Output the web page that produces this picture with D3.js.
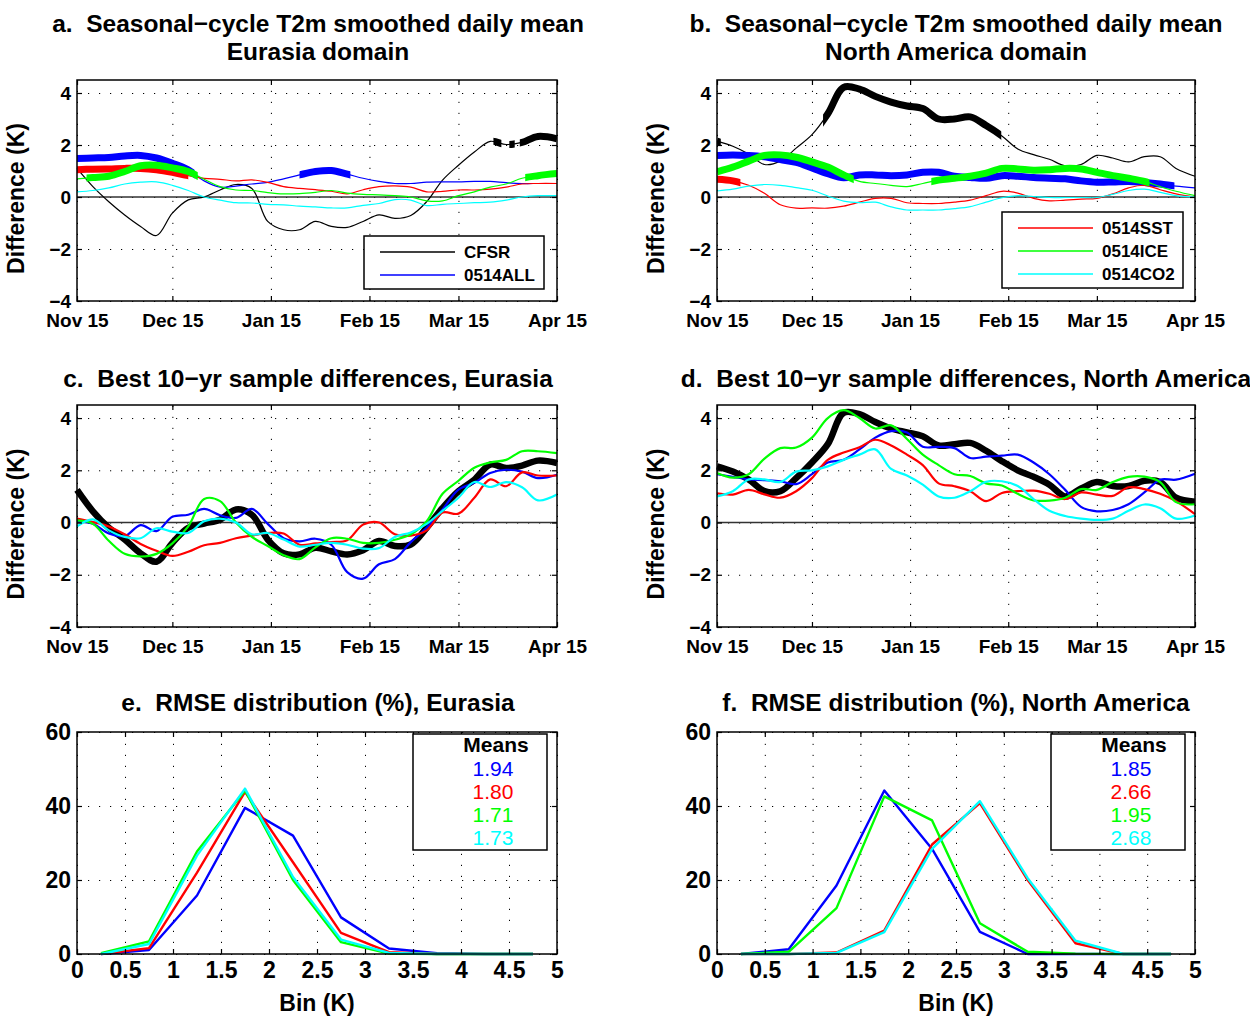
<!DOCTYPE html>
<html lang="en">
<head>
<meta charset="utf-8" />
<title>T2m differences</title>
<script src="https://d3js.org/d3.v7.min.js"></script>
<style>
  body { margin: 0; background: #fff; }
  svg text { font-family: "Liberation Sans", Arial, Helvetica, sans-serif; }
</style>
</head>
<body>
<script>
// ---- data ----
// day offsets from Nov 15 (every 5 days, last point at Apr 15)
var days = [0,5,10,15,20,25,30,35,40,45,50,55,60,65,70,75,80,85,90,95,100,105,110,115,120,125,130,135,140,145,151];
var dayTicks = [0,30,61,92,120,151];
var dayLabels = ["Nov 15","Dec 15","Jan 15","Feb 15","Mar 15","Apr 15"];
var diffTicks = [-4,-2,0,2,4];

// a. Eurasia, seasonal-cycle differences
var aCFSR = [1.1,0.4,-0.18,-0.69,-1.13,-1.48,-0.62,-0.11,0,0.27,0.48,0.33,-0.94,-1.26,-1.26,-0.94,-1.13,-1.17,-0.94,-0.69,-0.82,-0.71,-0.18,0.65,1.22,1.73,2.14,2.02,2.1,2.33,2.24];
var aALL  = [1.48,1.5,1.52,1.58,1.6,1.5,1.3,1.05,0.62,0.38,0.42,0.5,0.56,0.7,0.85,0.98,1.02,0.88,0.72,0.6,0.52,0.52,0.57,0.58,0.58,0.6,0.6,0.55,0.52,0.52,0.52];
var aSST  = [1.05,1.07,1.08,1.1,1.1,1.05,0.95,0.82,0.72,0.68,0.62,0.66,0.56,0.4,0.33,0.28,0.22,0.12,0.28,0.4,0.43,0.38,0.2,0.22,0.27,0.27,0.3,0.38,0.5,0.52,0.52];
var aICE  = [0.7,0.75,0.8,0.98,1.2,1.22,1.12,0.98,0.68,0.4,0.27,0.25,0.17,0.12,0.13,0.18,0.25,0.15,0.1,0.08,0.05,0.0,-0.15,-0.15,0.05,0.2,0.38,0.5,0.72,0.82,0.9];
var aCO2  = [0.2,0.25,0.35,0.5,0.57,0.58,0.45,0.25,0.0,-0.12,-0.22,-0.23,-0.28,-0.3,-0.35,-0.38,-0.42,-0.42,-0.32,-0.25,-0.1,-0.12,-0.33,-0.28,-0.25,-0.22,-0.2,-0.12,0.0,0.05,0.05];
// significant periods (thick), in days
var aSigCFSR = [[131,133.5],[136,137.7],[139.3,151]];
var aSigALL  = [[0,37],[70,86]];
var aSigSST  = [[0,35]];
var aSigICE  = [[3,38],[141,151]];

// b. North America, seasonal-cycle differences
var bCFSR = [2.15,1.95,1.65,1.25,1.38,1.88,2.4,3.2,4.22,4.15,3.87,3.65,3.5,3.4,3.0,3.0,3.08,2.75,2.35,1.85,1.63,1.45,1.2,1.25,1.6,1.5,1.35,1.55,1.55,1.1,0.8];
var bALL  = [1.6,1.62,1.6,1.55,1.44,1.33,1.12,0.9,0.74,0.85,0.85,0.82,0.85,0.95,0.95,0.8,0.75,0.72,0.82,0.8,0.75,0.72,0.7,0.62,0.57,0.58,0.6,0.56,0.5,0.42,0.35];
var bSST  = [0.68,0.62,0.45,0.14,-0.3,-0.43,-0.42,-0.43,-0.35,-0.2,-0.05,-0.05,-0.22,-0.25,-0.25,-0.2,-0.12,0.05,0.22,0.15,-0.05,-0.15,-0.12,-0.08,-0.05,0.12,0.35,0.45,0.28,0.12,0.0];
var bICE  = [0.97,1.15,1.38,1.6,1.62,1.53,1.35,1.15,0.85,0.6,0.52,0.45,0.4,0.52,0.65,0.72,0.8,0.92,1.1,1.08,1.03,1.05,1.1,1.08,0.95,0.82,0.72,0.6,0.4,0.22,0.05];
var bCO2  = [0.23,0.3,0.42,0.48,0.45,0.36,0.26,0.04,-0.16,-0.22,-0.2,-0.38,-0.5,-0.5,-0.5,-0.45,-0.37,-0.2,-0.03,0.05,0.02,-0.02,-0.02,-0.02,-0.02,0.1,0.25,0.3,0.18,0.05,0.0];
var bSigCFSR = [[0,1.2],[33.5,89.8]];
var bSigALL  = [[0,144.5]];
var bSigSST  = [[0,7.4]];
var bSigICE  = [[0,43.2],[67.7,136.6]];

// c. Eurasia, best 10-yr sample
var cCFSR = [1.25,0.43,-0.2,-0.65,-1.18,-1.5,-0.78,-0.2,-0.04,0.11,0.5,0.3,-0.65,-1.18,-1.22,-0.97,-1.1,-1.22,-1.06,-0.71,-0.9,-0.84,-0.2,0.56,1.2,1.64,2.22,2.09,2.18,2.37,2.28];
var cALL  = [0.05,-0.05,-0.42,-0.52,-0.1,-0.33,0.22,0.3,0.52,0.28,0.18,0.52,-0.05,-0.6,-0.72,-0.62,-0.85,-1.9,-2.15,-1.6,-1.4,-0.75,-0.2,0.5,1.26,1.52,1.9,2.02,1.95,1.7,1.83];
var cSST  = [0.15,0.02,-0.15,-0.45,-0.82,-1.08,-1.28,-1.12,-0.87,-0.78,-0.6,-0.5,-0.4,-0.42,-0.85,-0.8,-0.75,-0.68,-0.08,0.0,-0.45,-0.5,-0.3,0.38,0.34,0.95,1.65,1.39,1.92,1.8,1.8];
var cICE  = [0.08,-0.05,-0.7,-1.2,-1.3,-1.2,-0.8,-0.15,0.9,0.82,0.0,-0.55,-0.9,-1.25,-1.4,-0.95,-0.6,-0.62,-0.78,-0.78,-0.66,-0.45,0.05,1.1,1.6,2.1,2.3,2.4,2.73,2.73,2.66];
var cCO2  = [-0.15,0.12,-0.3,-0.55,-0.6,-0.22,-0.35,-0.4,0.05,0.15,0.0,-0.45,-0.4,-0.65,-0.92,-0.85,-0.78,-0.85,-1.0,-0.98,-0.55,-0.38,-0.05,0.45,0.95,1.55,1.36,1.55,1.35,0.85,1.07];

// d. North America, best 10-yr sample
var dCFSR = [2.15,1.95,1.65,1.2,1.2,1.7,2.3,3.0,4.2,4.15,3.85,3.6,3.45,3.3,2.95,3.0,3.05,2.75,2.35,2.0,1.75,1.45,1.0,1.3,1.55,1.4,1.4,1.6,1.55,0.95,0.8];
var dALL  = [1.85,1.75,1.65,1.62,1.58,1.47,1.85,2.3,2.4,2.8,3.25,3.5,3.45,2.9,2.9,2.85,2.47,2.52,2.56,2.6,2.3,1.85,1.25,0.6,0.43,0.48,0.7,1.15,1.64,1.64,1.87];
var dSST  = [1.12,1.07,1.25,1.08,0.95,1.2,1.7,2.4,2.68,2.88,3.17,2.95,2.6,2.2,1.5,1.39,1.2,0.82,1.13,1.2,1.22,1.1,0.9,1.15,1.07,1.02,1.35,1.28,1.1,0.82,0.32];
var dICE  = [1.9,1.72,1.85,2.45,2.85,2.87,3.25,4.0,4.3,4.0,3.6,3.72,3.2,2.6,2.2,1.85,1.78,1.5,1.42,1.1,0.85,0.84,0.95,1.28,1.25,1.55,1.75,1.76,1.55,0.78,0.7];
var dCO2  = [1.0,1.2,1.65,1.65,1.55,1.95,2.0,2.15,2.4,2.6,2.8,2.05,1.8,1.45,1.0,0.95,1.2,1.56,1.58,1.4,0.9,0.45,0.25,0.15,0.1,0.15,0.45,0.69,0.55,0.15,0.27];

// e./f. RMSE distributions (%)
var binCenters = [0.25,0.75,1.25,1.75,2.25,2.75,3.25,3.75,4.25,4.75];
var binTicks = [0,0.5,1,1.5,2,2.5,3,3.5,4,4.5,5];
var pctTicks = [0,20,40,60];
var eALL = [0,1.1,15.8,39.5,32,9.9,1.5,0.2,0,0];
var eSST = [0,1.6,22,43.8,24.8,5.7,0.5,0,0,0];
var eICE = [0.2,3.4,27.7,44.2,20,3.2,0.1,0,0,0];
var eCO2 = [0,2.7,26.6,44.7,20.8,3.9,0.3,0,0,0];
var fALL = [0,1.3,18.5,44.2,28.4,6,0,0,0,0];
var fSST = [0,0,0.4,6.3,29.6,40.8,20,2.9,0,0];
var fICE = [0,0.6,12.4,42.6,36.1,8.3,0.6,0.1,0,0];
var fCO2 = [0,0,0.3,5.9,28.4,41.3,20.5,3.6,0,0];
var eMeans = ["1.94","1.80","1.71","1.73"];
var fMeans = ["1.85","2.66","1.95","2.68"];

var cBlack = "#000000", cBlue = "#0000ff", cRed = "#ff0000", cGreen = "#00ff00", cCyan = "#00ffff";

// ---- drawing ----
var svg = d3.select("body").append("svg").attr("width", 1250).attr("height", 1018);
var defs = svg.append("defs");
var clipCount = 0;

function frame(g, x, y, xt, yt) {
  var x0 = x.range()[0], x1 = x.range()[1], y0 = y.range()[0], y1 = y.range()[1];
  // dotted grid
  var gx = g.append("g").attr("transform", "translate(0," + y0 + ")")
    .call(d3.axisBottom(x).tickValues(xt).tickSize(-(y0 - y1)).tickFormat(""));
  var gy = g.append("g").attr("transform", "translate(" + x0 + ",0)")
    .call(d3.axisLeft(y).tickValues(yt).tickSize(-(x1 - x0)).tickFormat(""));
  [gx, gy].forEach(function (a) {
    a.select(".domain").remove();
    a.selectAll("line").attr("stroke", "#000").attr("stroke-width", 1).attr("stroke-dasharray", "1.2,9.8");
  });
}

function box(g, x, y, xt, yt, xfmt, yfmt, fsx, fsy, xpad) {
  var x0 = x.range()[0], x1 = x.range()[1], y0 = y.range()[0], y1 = y.range()[1];
  var bottom = g.append("g").attr("transform", "translate(0," + y0 + ")")
    .call(d3.axisBottom(x).tickValues(xt).tickSize(-5).tickPadding(xpad).tickFormat(xfmt));
  var top = g.append("g").attr("transform", "translate(0," + y1 + ")")
    .call(d3.axisTop(x).tickValues(xt).tickSize(-5).tickFormat(""));
  var left = g.append("g").attr("transform", "translate(" + x0 + ",0)")
    .call(d3.axisLeft(y).tickValues(yt).tickSize(-5).tickPadding(6).tickFormat(yfmt));
  var right = g.append("g").attr("transform", "translate(" + x1 + ",0)")
    .call(d3.axisRight(y).tickValues(yt).tickSize(-5).tickFormat(""));
  [bottom, top, left, right].forEach(function (a) {
    a.select(".domain").remove();
    a.selectAll("line").attr("stroke", "#000").attr("stroke-width", 1.2);
    a.attr("font-family", null);
  });
  bottom.selectAll("text").attr("font-size", fsx).attr("font-weight", "bold").attr("fill", "#000");
  left.selectAll("text").attr("font-size", fsy).attr("font-weight", "bold").attr("fill", "#000");
  g.append("rect").attr("x", x0).attr("y", y1).attr("width", x1 - x0).attr("height", y0 - y1)
    .attr("fill", "none").attr("stroke", "#000").attr("stroke-width", 1.5);
}

function title(lines, cx, y0) {
  lines.forEach(function (t, i) {
    svg.append("text").attr("x", cx).attr("y", y0 + i * 28).attr("text-anchor", "middle")
      .style("white-space", "pre")
      .attr("font-size", 24.5).attr("font-weight", "bold").text(t);
  });
}

function ylabel(txt, cx, cy) {
  svg.append("text").attr("transform", "translate(" + cx + "," + cy + ") rotate(-90)")
    .attr("text-anchor", "middle").attr("font-size", 23).attr("font-weight", "bold").text(txt);
}

function timePanel(p) {
  var x = d3.scaleLinear().domain([0, 151]).range([p.left, p.right]);
  var y = d3.scaleLinear().domain([-4, 4.5]).range([p.bottom, p.top]);
  var g = svg.append("g");
  frame(g, x, y, dayTicks, diffTicks);
  g.append("line").attr("x1", p.left).attr("x2", p.right).attr("y1", y(0)).attr("y2", y(0))
    .attr("stroke", "#333").attr("stroke-width", 1.6);
  var line = d3.line().x(function (d, i) { return x(days[i]); }).y(function (d) { return y(d); })
    .curve(d3.curveCatmullRom);
  p.series.forEach(function (s) {
    g.append("path").datum(s.values).attr("d", line).attr("fill", "none")
      .attr("stroke", s.color).attr("stroke-width", s.width).attr("stroke-linejoin", "round");
    (s.sig || []).forEach(function (r) {
      var id = "clip" + (clipCount++);
      defs.append("clipPath").attr("id", id).append("rect")
        .attr("x", x(r[0])).attr("y", p.top).attr("width", x(r[1]) - x(r[0])).attr("height", p.bottom - p.top);
      g.append("path").datum(s.values).attr("d", line).attr("fill", "none")
        .attr("stroke", s.color).attr("stroke-width", p.thick).attr("stroke-linejoin", "round")
        .attr("clip-path", "url(#" + id + ")");
    });
  });
  box(g, x, y, dayTicks, diffTicks, function (d, i) { return dayLabels[i]; }, d3.format("d"), 19, 19, 13);
  ylabel("Difference (K)", p.left - 53, (p.top + p.bottom) / 2 + 8);
  return g;
}

function legend(g, x0, y0, w, entries) {
  var h = entries.length * 23 + 7;
  g.append("rect").attr("x", x0).attr("y", y0).attr("width", w).attr("height", h)
    .attr("fill", "#fff").attr("stroke", "#000").attr("stroke-width", 1.5);
  entries.forEach(function (e, i) {
    var yy = y0 + 16 + i * 23;
    g.append("line").attr("x1", x0 + 16).attr("x2", x0 + 91).attr("y1", yy).attr("y2", yy)
      .attr("stroke", e[1]).attr("stroke-width", 1.3);
    g.append("text").attr("x", x0 + 100).attr("y", yy + 6).attr("font-size", 17)
      .attr("font-weight", "bold").text(e[0]);
  });
}

function rmsePanel(p) {
  var x = d3.scaleLinear().domain([0, 5]).range([p.left, p.right]);
  var y = d3.scaleLinear().domain([0, 60]).range([p.bottom, p.top]);
  var g = svg.append("g");
  frame(g, x, y, binTicks, pctTicks);
  var line = d3.line().x(function (d, i) { return x(binCenters[i]); }).y(function (d) { return y(d); });
  p.series.forEach(function (s) {
    g.append("path").datum(s.values).attr("d", line).attr("fill", "none")
      .attr("stroke", s.color).attr("stroke-width", 2.4).attr("stroke-linejoin", "round");
  });
  box(g, x, y, binTicks, pctTicks, function (d) { return String(d); }, d3.format("d"), 23, 23, 8);
  svg.append("text").attr("x", (p.left + p.right) / 2).attr("y", p.bottom + 57).attr("text-anchor", "middle")
    .attr("font-size", 23).attr("font-weight", "bold").text("Bin (K)");
  // means box
  var bx = p.right - 144, by = p.top + 2;
  g.append("rect").attr("x", bx).attr("y", by).attr("width", 134).attr("height", 116)
    .attr("fill", "#fff").attr("stroke", "#000").attr("stroke-width", 1.5);
  g.append("text").attr("x", bx + 83).attr("y", by + 18).attr("text-anchor", "middle")
    .attr("font-size", 21).attr("font-weight", "bold").text("Means");
  var cols = [cBlue, cRed, cGreen, cCyan];
  p.means.forEach(function (m, i) {
    g.append("text").attr("x", bx + 80).attr("y", by + 42 + i * 23).attr("text-anchor", "middle")
      .attr("font-size", 21).attr("fill", cols[i]).text(m);
  });
}

// panel a
var ga = timePanel({ left: 77, right: 557, top: 80, bottom: 301, thick: 7, series: [
  { values: aCFSR, color: cBlack, width: 1.2, sig: aSigCFSR },
  { values: aALL, color: cBlue, width: 1.2, sig: aSigALL },
  { values: aSST, color: cRed, width: 1.2, sig: aSigSST },
  { values: aICE, color: cGreen, width: 1.2, sig: aSigICE },
  { values: aCO2, color: cCyan, width: 1.2 }
]});
legend(ga, 364, 236, 180, [["CFSR", cBlack], ["0514ALL", cBlue]]);
title(["a.  Seasonal\u2212cycle T2m smoothed daily mean", "Eurasia domain"], 318, 32);

// panel b
var gb = timePanel({ left: 717, right: 1195, top: 80, bottom: 301, thick: 7, series: [
  { values: bCFSR, color: cBlack, width: 1.2, sig: bSigCFSR },
  { values: bALL, color: cBlue, width: 1.2, sig: bSigALL },
  { values: bSST, color: cRed, width: 1.2, sig: bSigSST },
  { values: bICE, color: cGreen, width: 1.2, sig: bSigICE },
  { values: bCO2, color: cCyan, width: 1.2 }
]});
legend(gb, 1002, 212, 181, [["0514SST", cRed], ["0514ICE", cGreen], ["0514CO2", cCyan]]);
title(["b.  Seasonal\u2212cycle T2m smoothed daily mean", "North America domain"], 956, 32);

// panel c
timePanel({ left: 77, right: 557, top: 405, bottom: 627, thick: 6, series: [
  { values: cCFSR, color: cBlack, width: 6.5 },
  { values: cALL, color: cBlue, width: 2.2 },
  { values: cSST, color: cRed, width: 2.2 },
  { values: cICE, color: cGreen, width: 2.2 },
  { values: cCO2, color: cCyan, width: 2.2 }
]});
title(["c.  Best 10\u2212yr sample differences, Eurasia"], 308, 387);

// panel d
timePanel({ left: 717, right: 1195, top: 405, bottom: 627, thick: 6, series: [
  { values: dCFSR, color: cBlack, width: 6.5 },
  { values: dALL, color: cBlue, width: 2.2 },
  { values: dSST, color: cRed, width: 2.2 },
  { values: dICE, color: cGreen, width: 2.2 },
  { values: dCO2, color: cCyan, width: 2.2 }
]});
title(["d.  Best 10\u2212yr sample differences, North America"], 966, 387);

// panel e
rmsePanel({ left: 77, right: 557, top: 732, bottom: 954, means: eMeans, series: [
  { values: eALL, color: cBlue }, { values: eSST, color: cRed },
  { values: eICE, color: cGreen }, { values: eCO2, color: cCyan }
]});
title(["e.  RMSE distribution (%), Eurasia"], 318, 711);

// panel f
rmsePanel({ left: 717, right: 1195, top: 732, bottom: 954, means: fMeans, series: [
  { values: fALL, color: cBlue }, { values: fSST, color: cRed },
  { values: fICE, color: cGreen }, { values: fCO2, color: cCyan }
]});
title(["f.  RMSE distribution (%), North America"], 956, 711);
</script>
</body>
</html>
